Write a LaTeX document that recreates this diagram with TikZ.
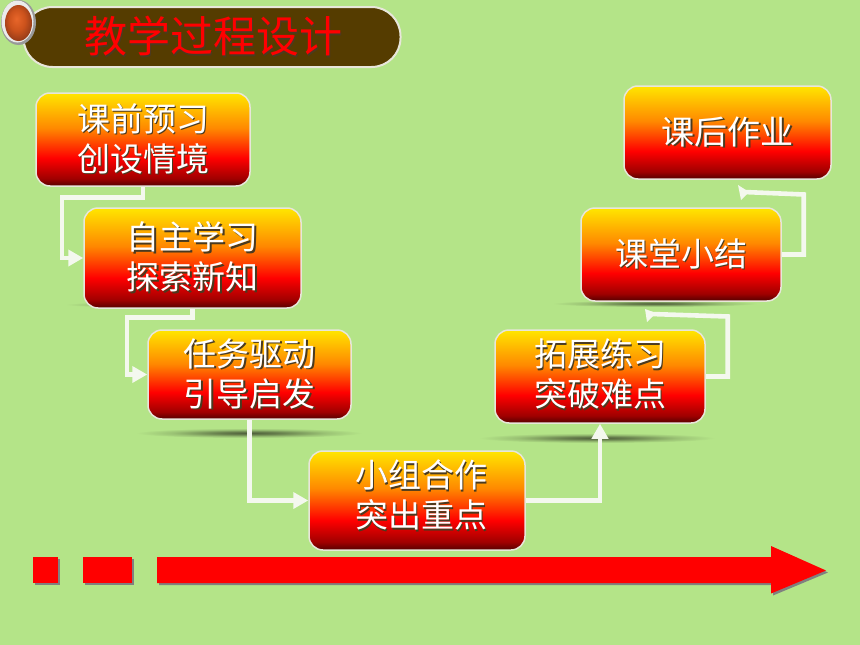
\documentclass[tikz,border=0pt]{standalone}
\usepackage{fontspec}
\usetikzlibrary{arrows.meta,calc}
\newfontfamily\cjk{Noto Sans CJK SC}
\definecolor{bgc}{HTML}{B4E488}
\definecolor{edgec}{HTML}{E8E6DA}
\definecolor{linec}{HTML}{F4F8EE}
\definecolor{pillc}{HTML}{553C00}
\definecolor{txtsh}{HTML}{4A3A20}
\definecolor{blobc}{HTML}{4F5F3A}
\definecolor{gyellow}{HTML}{FFE600}
\definecolor{gorange}{HTML}{FF8800}
\definecolor{gdark}{HTML}{550000}
\definecolor{gmid}{HTML}{A00000}
\definecolor{balla}{HTML}{E8662A}
\definecolor{ballb}{HTML}{CC521C}
\definecolor{ballc}{HTML}{8C3818}
\pgfdeclareverticalshading{boxgrad}{100bp}{
  color(0bp)=(gdark);
  color(25bp)=(gdark);
  color(29bp)=(gmid);
  color(40bp)=(red);
  color(56bp)=(gorange);
  color(75bp)=(gyellow);
  color(100bp)=(gyellow)}
\pgfdeclareradialshading{blob}{\pgfpoint{0bp}{0bp}}{
  color(0bp)=(blobc);
  color(7bp)=(blobc!75!bgc);
  color(17bp)=(blobc!25!bgc);
  color(25bp)=(bgc);
  color(50bp)=(bgc)}
\pgfdeclareradialshading{ball}{\pgfpoint{-4bp}{6bp}}{
  color(0bp)=(balla);
  color(15bp)=(ballb);
  color(30bp)=(ballc);
  color(50bp)=(ballc)}
\newcommand{\shtxt}[2][txtsh]{\rlap{\kern1.6pt\raisebox{-1.6pt}{\textcolor{#1}{#2}}}#2}
\tikzset{
  stepbox/.style={rounded corners=14pt,shading=boxgrad,draw=edgec,line width=1.5pt,inner sep=0pt,
    text=white,align=center,font=\cjk\fontsize{33}{40}\selectfont},
  link/.style={draw=linec,line width=4.6pt,line join=miter},
  linkarrow/.style={link,-{Triangle[length=15pt,width=16pt,fill=linec]}},
  headfill/.style={fill=linec,draw=none},
  redshape/.style={fill=red,draw=none},
  greyshape/.style={fill=black!50,draw=none},
  floor/.style={shading=blob}
}
\begin{document}
\begin{tikzpicture}[x=1pt,y=-1pt]
\useasboundingbox (0,0) rectangle (860,645);
\fill[bgc] (0,0) rectangle (860,645);

% floor shadows
\path[floor] (178,304.5) ellipse (113 and 3.5);
\path[floor] (249,433) ellipse (113 and 5);
\path[floor] (597,438) ellipse (118 and 5);
\path[floor] (655,303.5) ellipse (103 and 3.5);

% title
\node[draw=edgec,fill=pillc,line width=2pt,rounded corners=29pt,minimum width=377pt,minimum height=60pt,
  inner sep=0pt,text=red,font=\cjk\fontsize{43}{48}\selectfont] (title) at (212,37) {\hspace*{2pt}\shtxt{教学过程设计}};
\path[fill=black!40] (18.5,22.5) ellipse (17.5 and 22.5);
\path[fill=black!8] (17.5,21.5) ellipse (16 and 21);
\path[shading=ball] (18.5,23) ellipse (13.5 and 18);

% steps
\node[stepbox,minimum width=214pt,minimum height=93pt] (b1) at (143,139.5) {\shtxt{课前预习}\\\shtxt{创设情境}};
\node[stepbox,minimum width=217pt,minimum height=100pt] (b2) at (192.5,258) {\shtxt{自主学习}\\\shtxt{探索新知}};
\node[stepbox,minimum width=203pt,minimum height=89pt] (b3) at (249.5,374.5) {\shtxt{任务驱动}\\\shtxt{引导启发}};
\node[stepbox,minimum width=216pt,minimum height=99pt] (b4) at (417,500.5) {\hspace*{8pt}\shtxt{小组合作}\\\hspace*{8pt}\shtxt{突出重点}\\[-27pt]\mbox{}};
\node[stepbox,minimum width=210pt,minimum height=93pt] (b5) at (600,376.5) {\shtxt{拓展练习}\\\shtxt{突破难点}\\[-32pt]\mbox{}};
\node[stepbox,minimum width=200pt,minimum height=93pt] (b6) at (681,254.5) {\shtxt{课堂小结}};
\node[stepbox,minimum width=207pt,minimum height=93pt] (b7) at (727.5,132.5) {\shtxt{课后作业}};

% connectors
\draw[linkarrow] (b1.south) -- ++(0,11) -- ++(-81,0) |- (b2.west);
\draw[linkarrow] (b2.south) -- ++(0,9) -- ++(-65.5,0) |- (b3.west);
\draw[linkarrow] (b3.south) |- (b4.west);
\draw[linkarrow] (b4.east) -| (b5.south);

\coordinate (h6) at (651,314);
\coordinate (h7) at (744,192);
\draw[link] (b5.east) -- ++(22,0) -- ++(0,-60) -- (h6);
\fill[headfill] (645,309) -- (656,313) -- (647,322) -- cycle;
\draw[link] (b6.east) -- ++(22,0) -- ++(0,-60) -- (h7);
\fill[headfill] (738,185) -- (749,192) -- (741,200) -- cycle;

% timeline bar
\begin{scope}[shift={(2,2)}]
\fill[greyshape] (33,557) rectangle (58,583);
\fill[greyshape] (83,557) rectangle (132,583);
\fill[greyshape] (157,557) -- (771,557) -- (771,546) -- (826,570.5) -- (771,593.5) -- (771,583) -- (157,583) -- cycle;
\end{scope}
\fill[redshape] (33,557) rectangle (58,583);
\fill[redshape] (83,557) rectangle (132,583);
\fill[redshape] (157,557) -- (771,557) -- (771,546) -- (826,570.5) -- (771,593.5) -- (771,583) -- (157,583) -- cycle;
\end{tikzpicture}
\end{document}
